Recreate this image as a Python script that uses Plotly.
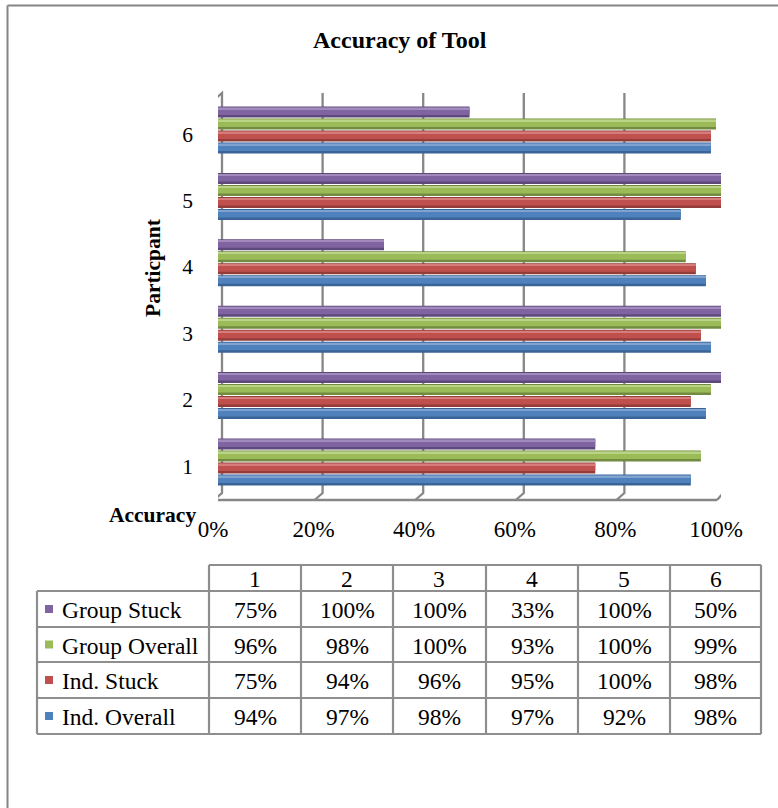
import plotly.graph_objects as go

# ---- data -------------------------------------------------------------
participants = [1, 2, 3, 4, 5, 6]
series_names = ["Ind. Overall", "Ind. Stuck", "Group Overall", "Group Stuck"]
ind_overall = [94, 97, 98, 97, 92, 98]
ind_stuck = [75, 94, 96, 95, 100, 98]
group_overall = [96, 98, 100, 93, 100, 99]
group_stuck = [75, 100, 100, 33, 100, 50]
x_ticks = [0, 20, 40, 60, 80, 100]
x_tick_text = [f"{v}%" for v in x_ticks]

series_values = [ind_overall, ind_stuck, group_overall, group_stuck]
# (main, dark edge, light highlight) per series
palette = [
    ("#4F81BD", "#3A6396", "#7FA2D1"),
    ("#C0504D", "#933C3A", "#D67C7A"),
    ("#9BBB59", "#728B40", "#BAD487"),
    ("#8064A2", "#5E4A7A", "#A08BBC"),
]

# ---- canvas geometry (pixels) ----------------------------------------
W, H = 778, 808
PLOT_L, PLOT_R, PLOT_T, PLOT_B = 218, 721, 93, 500
Y_RANGE = [0.488, 6.617]
U = (Y_RANGE[1] - Y_RANGE[0]) / (PLOT_B - PLOT_T)  # y units per pixel


def fx(x):
    return x / W


def fy(y):
    return 1 - y / H


SERIF = "Liberation Serif, Times New Roman, serif"
GRID = "#878787"

fig = go.Figure()

# ---- cylinder-like bars (dark body, main band, light highlight) -------
layers = [(1, -5.5, 5.5), (0, -3.0, 4.5), (2, 2.9, 4.4)]
for k, (name, vals, cols) in enumerate(zip(series_names, series_values, palette)):
    centre_px = 4 + (k - 1.5) * 12
    for ci, lo, hi in layers:
        fig.add_trace(go.Bar(
            y=participants, x=vals, orientation="h", name=name,
            base=0, offset=(centre_px + lo) * U, width=(hi - lo) * U,
            marker=dict(color=cols[ci], line=dict(width=0)),
            showlegend=False, hoverinfo="x+name",
        ))

shapes = []

# outer frame: left and top edges (the rest runs off the canvas)
FRAME = dict(color="#858585", width=2)
shapes.append(dict(type="line", xref="paper", yref="paper",
                   x0=fx(7.5), x1=fx(7.5), y0=0, y1=fy(5.5), line=FRAME))
shapes.append(dict(type="line", xref="paper", yref="paper",
                   x0=fx(7.5), x1=1, y0=fy(5.5), y1=fy(5.5), line=FRAME))

# back-wall gridlines with a short floor diagonal to the front edge
BACK, FRONT = 4, -4
for v in x_ticks[1:-1]:
    shapes.append(dict(type="path", xref="x", yref="paper", xsizemode="pixel", xanchor=v,
                       path=f"M {BACK},{fy(PLOT_T)} L {BACK},{fy(PLOT_B - 7)} L {FRONT},{fy(PLOT_B)}",
                       line=dict(color=GRID, width=2.3), layer="below"))

# left wall (front + back edges)
shapes.append(dict(type="path", xref="x", yref="paper", xsizemode="pixel", xanchor=0,
                   path=(f"M {BACK},{fy(PLOT_T)} L {BACK},{fy(PLOT_B - 7)} L {FRONT},{fy(PLOT_B)} "
                         f"L {FRONT},{fy(PLOT_T + 7)} Z"),
                   line=dict(color=GRID, width=2.3), fillcolor="rgba(0,0,0,0)", layer="below"))
# floor front edge
shapes.append(dict(type="path", xref="x", yref="paper", xsizemode="pixel", xanchor=0,
                   path=f"M {FRONT},{fy(PLOT_B)} L {FRONT + (PLOT_R - PLOT_L)},{fy(PLOT_B)}",
                   line=dict(color=GRID, width=2.3), layer="below"))
# right edge of the back wall
shapes.append(dict(type="path", xref="x", yref="paper", xsizemode="pixel", xanchor=100,
                   path=f"M {BACK},{fy(PLOT_T)} L {BACK},{fy(PLOT_B - 9)} L {FRONT},{fy(PLOT_B)}",
                   line=dict(color=GRID, width=2.3), layer="below"))

# ---- data table below the chart --------------------------------------
col_x = [37, 209, 301, 393, 486, 578, 670, 761]
row_y = [565, 591, 627, 662, 698, 734]
TLINE = dict(color="#8E8E8E", width=2.2)

shapes.append(dict(type="line", xref="paper", yref="paper",
                   x0=fx(col_x[1]), x1=fx(col_x[-1]), y0=fy(row_y[0]), y1=fy(row_y[0]), line=TLINE))
for ry in row_y[1:]:
    shapes.append(dict(type="line", xref="paper", yref="paper",
                       x0=fx(col_x[0]), x1=fx(col_x[-1]), y0=fy(ry), y1=fy(ry), line=TLINE))
shapes.append(dict(type="line", xref="paper", yref="paper",
                   x0=fx(col_x[0]), x1=fx(col_x[0]), y0=fy(row_y[1]), y1=fy(row_y[-1]), line=TLINE))
for cx in col_x[1:]:
    shapes.append(dict(type="line", xref="paper", yref="paper",
                       x0=fx(cx), x1=fx(cx), y0=fy(row_y[0]), y1=fy(row_y[-1]), line=TLINE))

annotations = []
TFONT = dict(family=SERIF, size=23.5, color="black")

# header: participant numbers
for i, p in enumerate(participants):
    annotations.append(dict(xref="paper", yref="paper",
                            x=fx((col_x[i + 1] + col_x[i + 2]) / 2),
                            y=fy((row_y[0] + row_y[1]) / 2 + 1),
                            text=str(p), showarrow=False, font=TFONT,
                            xanchor="center", yanchor="middle"))

# body rows, top row is the last series
table_order = list(range(len(series_names)))[::-1]
for r, k in enumerate(table_order):
    top, bot = row_y[r + 1], row_y[r + 2]
    mid = (top + bot) / 2
    shapes.append(dict(type="rect", xref="paper", yref="paper",
                       x0=fx(45), x1=fx(53), y0=fy(mid - 4), y1=fy(mid + 4),
                       line=dict(width=0), fillcolor=palette[k][0]))
    annotations.append(dict(xref="paper", yref="paper", x=fx(60), y=fy(mid + 1),
                            text=series_names[k], showarrow=False, font=TFONT,
                            xanchor="left", yanchor="middle"))
    for i, v in enumerate(series_values[k]):
        annotations.append(dict(xref="paper", yref="paper",
                                x=fx((col_x[i + 1] + col_x[i + 2]) / 2), y=fy(mid + 1),
                                text=f"{v}%", showarrow=False, font=TFONT,
                                xanchor="center", yanchor="middle"))

# titles
annotations.append(dict(xref="paper", yref="paper", x=fx(400), y=fy(40),
                        text="<b>Accuracy of Tool</b>", showarrow=False,
                        font=dict(family=SERIF, size=24, color="black"),
                        xanchor="center", yanchor="middle"))
annotations.append(dict(xref="paper", yref="paper", x=fx(153), y=fy(268),
                        text="<b>Particpant</b>", showarrow=False, textangle=-90,
                        font=dict(family=SERIF, size=21.5, color="black"),
                        xanchor="center", yanchor="middle"))
annotations.append(dict(xref="paper", yref="paper", x=fx(198), y=fy(515),
                        text="<b>Accuracy</b>", showarrow=False,
                        font=dict(family=SERIF, size=21.5, color="black"),
                        xanchor="right", yanchor="middle"))

fig.update_layout(
    width=W, height=H, autosize=False,
    margin=dict(l=0, r=0, t=0, b=0, pad=0, autoexpand=False),
    paper_bgcolor="white", plot_bgcolor="rgba(0,0,0,0)",
    barmode="overlay",
    showlegend=False,
    xaxis=dict(domain=[fx(PLOT_L), fx(PLOT_R)], range=[0, 100], automargin=False,
               tickmode="array", tickvals=x_ticks, ticktext=x_tick_text,
               showgrid=False, zeroline=False,
               showline=False, ticks="", ticklabelstandoff=13, ticklabelshift=-5,
               tickfont=dict(family=SERIF, size=23, color="black"), fixedrange=True),
    yaxis=dict(domain=[fy(PLOT_B), fy(PLOT_T)], range=Y_RANGE, automargin=False,
               tickmode="array", tickvals=participants, ticktext=[str(p) for p in participants],
               showgrid=False, zeroline=False, showline=False,
               ticks="", ticklabelstandoff=24,
               tickfont=dict(family=SERIF, size=21.5, color="black"), fixedrange=True),
    shapes=shapes,
    annotations=annotations,
)

fig.write_html("out.html")
